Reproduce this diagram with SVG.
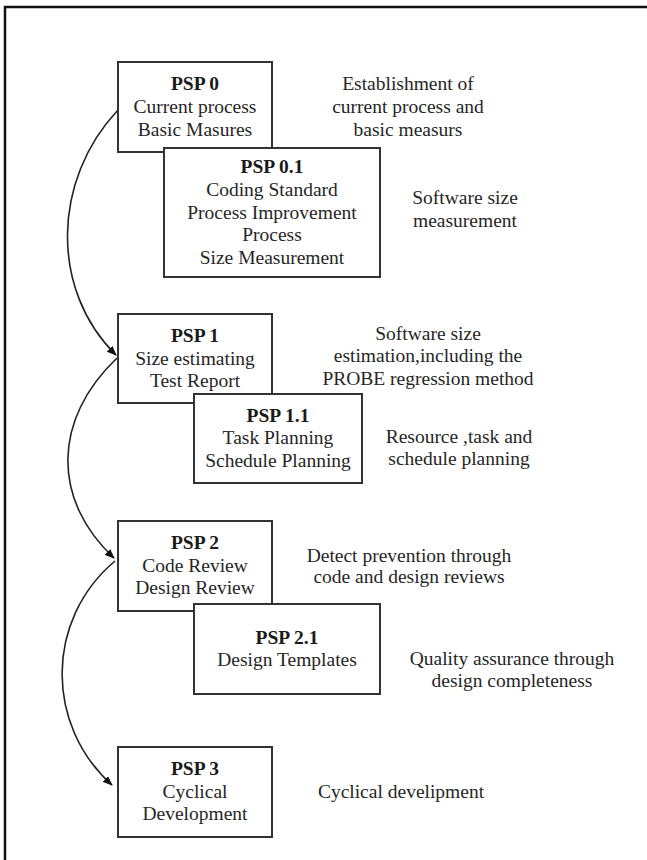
<svg xmlns="http://www.w3.org/2000/svg" width="647" height="860" viewBox="0 0 647 860">
<style>
text{font-family:"Liberation Serif","Times New Roman",serif;font-size:19.5px;fill:#262626;text-anchor:middle}
.t{font-weight:bold;fill:#1a1a1a}
.box{fill:#fff;stroke:#333;stroke-width:2}
.conn{fill:none;stroke:#222;stroke-width:1.6}
</style>
<defs>
<marker id="ah" markerWidth="10" markerHeight="8" refX="9" refY="4" orient="auto" markerUnits="userSpaceOnUse">
<path d="M0,0 L10,4 L0,8 Z" fill="#111"/>
</marker>
</defs>
<rect width="647" height="860" fill="#fff"/>
<path d="M5,860 V7 H647" fill="none" stroke="#111" stroke-width="2.5"/>
<g id="connectors">
<path class="conn" d="M118,110 C52,180 50,290 116,355" marker-end="url(#ah)"/>
<path class="conn" d="M117,358 C52,420 52,500 114,558" marker-end="url(#ah)"/>
<path class="conn" d="M115,561 C45,620 45,725 112,785" marker-end="url(#ah)"/>
</g>
<g id="psp0">
<rect class="box" x="118" y="62" width="154" height="90"/>
<text class="t" x="195" y="90">PSP 0</text>
<text x="195" y="113">Current process</text>
<text x="195" y="136">Basic Masures</text>
</g>
<g id="psp01">
<rect class="box" x="164" y="148" width="216" height="129"/>
<text class="t" x="272" y="172.5">PSP 0.1</text>
<text x="272" y="195.5">Coding Standard</text>
<text x="272" y="218.5">Process Improvement</text>
<text x="272" y="240.5">Process</text>
<text x="272" y="263.5">Size Measurement</text>
</g>
<g id="psp1">
<rect class="box" x="118" y="314" width="154" height="89"/>
<text class="t" x="195" y="341.5">PSP 1</text>
<text x="195" y="364.5">Size estimating</text>
<text x="195" y="386.5">Test Report</text>
</g>
<g id="psp11">
<rect class="box" x="194" y="394" width="168" height="89"/>
<text class="t" x="278" y="421.5">PSP 1.1</text>
<text x="278" y="443.5">Task Planning</text>
<text x="278" y="466.5">Schedule Planning</text>
</g>
<g id="psp2">
<rect class="box" x="118" y="521" width="154" height="90"/>
<text class="t" x="195" y="548.5">PSP 2</text>
<text x="195" y="571.5">Code Review</text>
<text x="195" y="593.5">Design Review</text>
</g>
<g id="psp21">
<rect class="box" x="194" y="604" width="186" height="90"/>
<text class="t" x="287" y="643.5">PSP 2.1</text>
<text x="287" y="665.5">Design Templates</text>
</g>
<g id="psp3">
<rect class="box" x="118" y="747" width="154" height="90"/>
<text class="t" x="195" y="774.5">PSP 3</text>
<text x="195" y="797.5">Cyclical</text>
<text x="195" y="819.5">Development</text>
</g>
<g id="notes">
<text x="408" y="90">Establishment of</text>
<text x="408" y="113">current process and</text>
<text x="408" y="136">basic measurs</text>
<text x="465" y="203.5">Software size</text>
<text x="465" y="226.5">measurement</text>
<text x="428" y="339.5">Software size</text>
<text x="428" y="361.5">estimation,including the</text>
<text x="428" y="384.5">PROBE regression method</text>
<text x="459" y="442.5">Resource ,task and</text>
<text x="459" y="464.5">schedule planning</text>
<text x="409" y="561.5">Detect prevention through</text>
<text x="409" y="582.5">code and design reviews</text>
<text x="512" y="664.5">Quality assurance through</text>
<text x="512" y="686.5">design completeness</text>
<text x="401" y="797.5">Cyclical develipment</text>
</g>
</svg>
